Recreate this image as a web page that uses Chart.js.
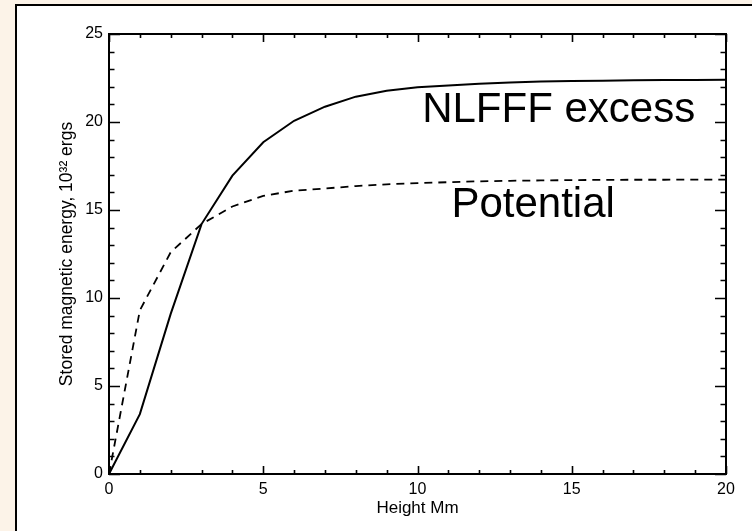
<!DOCTYPE html>
<html>
<head>
<meta charset="utf-8">
<script src="https://cdn.jsdelivr.net/npm/chart.js@4.4.1/dist/chart.umd.min.js"></script>
<style>
  html, body { margin: 0; padding: 0; width: 752px; height: 531px; overflow: hidden; background: #fcf3e8; }
  #box { position: absolute; left: 15px; top: 4px; width: 760px; height: 560px; background: #ffffff; border-left: 2px solid #000; border-top: 2px solid #000; }
  #c { position: absolute; left: 0; top: 0; }
</style>
</head>
<body>
<div id="box"></div>
<canvas id="c" width="752" height="531"></canvas>
<script>
// Data
const heights   = [0, 1, 2, 3, 4, 5, 6, 7, 8, 9, 10, 11, 12, 13, 14, 15, 16, 17, 18, 19, 20];
const nlfff     = [0, 3.4, 9.1, 14.2, 16.95, 18.85, 20.07, 20.87, 21.44, 21.78, 21.97, 22.08, 22.18, 22.25, 22.3, 22.33, 22.35, 22.37, 22.38, 22.39, 22.4];
const potential = [0, 9.3, 12.6, 14.2, 15.2, 15.8, 16.1, 16.22, 16.36, 16.46, 16.53, 16.58, 16.63, 16.66, 16.68, 16.7, 16.71, 16.72, 16.72, 16.73, 16.73];
const xTickLabels = ['0', '5', '10', '15', '20'];
const yTickLabels = ['0', '5', '10', '15', '20', '25'];
const seriesNames = ['NLFFF excess', 'Potential'];
const xTitle = 'Height Mm';
const yTitle = 'Stored magnetic energy, 10\u00B3\u00B2 ergs';

const FONT = '"Liberation Sans", Arial, Helvetica, sans-serif';

const toPts = (arr) => heights.map((h, i) => ({ x: h, y: arr[i] }));

const framePlugin = {
  id: 'frame',
  afterDatasetsDraw(chart) {
    const { ctx, chartArea: a, scales: { x, y } } = chart;
    ctx.save();
    ctx.strokeStyle = '#000';
    ctx.lineWidth = 1.6;
    ctx.beginPath();
    // x ticks (bottom and top, inward)
    for (let v = x.min; v <= x.max + 1e-9; v += 1) {
      const px = Math.round(x.getPixelForValue(v)) + 0.5;
      const len = (v % 5 === 0) ? 8 : 4;
      ctx.moveTo(px, a.bottom); ctx.lineTo(px, a.bottom - len);
      ctx.moveTo(px, a.top); ctx.lineTo(px, a.top + len);
    }
    // y ticks (left and right, inward)
    for (let v = y.min; v <= y.max + 1e-9; v += 1) {
      const py = Math.round(y.getPixelForValue(v)) + 0.5;
      const len = (v % 5 === 0) ? 11 : 5.5;
      ctx.moveTo(a.left, py); ctx.lineTo(a.left + len, py);
      ctx.moveTo(a.right, py); ctx.lineTo(a.right - len, py);
    }
    ctx.stroke();
    ctx.lineWidth = 2;
    ctx.strokeRect(a.left, a.top, a.right - a.left, a.bottom - a.top);

    // in-plot labels
    ctx.fillStyle = '#000';
    ctx.font = '42px ' + FONT;
    ctx.textBaseline = 'alphabetic';
    ctx.textAlign = 'left';
    ctx.fillText(seriesNames[0], x.getPixelForValue(10.15), y.getPixelForValue(20.0));
    ctx.fillText(seriesNames[1], x.getPixelForValue(11.1), y.getPixelForValue(14.6));
    ctx.restore();
  }
};

new Chart(document.getElementById('c'), {
  type: 'line',
  data: {
    datasets: [
      { label: seriesNames[0], data: toPts(nlfff), borderColor: '#000', borderWidth: 2, pointRadius: 0, tension: 0, fill: false },
      { label: seriesNames[1], data: toPts(potential), borderColor: '#000', borderWidth: 1.8, borderDash: [8, 6], pointRadius: 0, tension: 0, fill: false }
    ]
  },
  options: {
    responsive: false,
    animation: false,
    events: [],
    layout: { padding: { top: 34, right: 26, left: 0, bottom: 0 } },
    plugins: { legend: { display: false }, tooltip: { enabled: false } },
    scales: {
      x: {
        type: 'linear', min: 0, max: 20,
        afterFit: (s) => { s.height = 57; },
        afterBuildTicks: (s) => { s.ticks = xTickLabels.map(t => ({ value: Number(t) })); },
        grid: { display: false, drawTicks: false },
        border: { display: false },
        ticks: { color: '#000', padding: 6, font: { family: FONT, size: 16 }, maxRotation: 0,
                 callback: (v) => xTickLabels[xTickLabels.indexOf(String(v))] },
        title: { display: true, text: xTitle, color: '#000', font: { family: FONT, size: 17 }, padding: { top: 0, bottom: 12 } }
      },
      y: {
        type: 'linear', min: 0, max: 25,
        afterFit: (s) => { s.width = 109; },
        afterBuildTicks: (s) => { s.ticks = yTickLabels.map(t => ({ value: Number(t) })); },
        grid: { display: false, drawTicks: false },
        border: { display: false },
        ticks: { color: '#000', padding: 6, font: { family: FONT, size: 16 },
                 callback: (v) => yTickLabels[yTickLabels.indexOf(String(v))] },
        title: { display: true, text: yTitle, color: '#000', font: { family: FONT, size: 17.5 }, padding: { top: 57, bottom: 0 } }
      }
    }
  },
  plugins: [framePlugin]
});
</script>
</body>
</html>
